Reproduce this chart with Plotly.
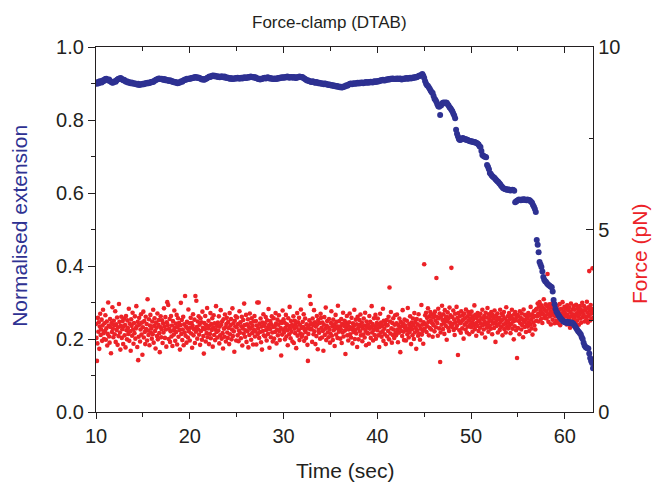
import plotly.graph_objects as go

# ---------------- data ----------------
# Normalised extension: one row per second, samples every 0.1 s
ext_10_20 = [
 [0.902,0.899,0.904,0.901,0.906,0.905,0.903,0.908,0.906,0.910],
 [0.912,0.913,0.910,0.908,0.911,0.907,0.905,0.903,0.902,0.904],
 [0.906,0.905,0.909,0.911,0.913,0.912,0.915,0.914,0.911,0.909],
 [0.910,0.907,0.905,0.906,0.903,0.904,0.902,0.901,0.903,0.900],
 [0.901,0.899,0.900,0.898,0.897,0.899,0.896,0.897,0.898,0.897],
 [0.899,0.898,0.900,0.901,0.900,0.902,0.901,0.903,0.902,0.904],
 [0.905,0.904,0.907,0.908,0.910,0.911,0.912,0.914,0.913,0.912],
 [0.913,0.911,0.910,0.912,0.909,0.910,0.908,0.909,0.907,0.909],
 [0.906,0.907,0.904,0.905,0.903,0.904,0.902,0.901,0.903,0.902],
 [0.904,0.906,0.905,0.908,0.909,0.911,0.910,0.913,0.912,0.913],
]
ext_20_30 = [
 [0.914,0.913,0.915,0.916,0.915,0.917,0.918,0.916,0.917,0.915],
 [0.916,0.914,0.913,0.911,0.912,0.910,0.911,0.913,0.914,0.916],
 [0.917,0.919,0.918,0.920,0.921,0.922,0.920,0.921,0.919,0.920],
 [0.918,0.919,0.917,0.918,0.920,0.918,0.917,0.919,0.916,0.917],
 [0.915,0.916,0.914,0.913,0.915,0.912,0.913,0.914,0.913,0.915],
 [0.914,0.916,0.915,0.913,0.915,0.916,0.914,0.915,0.917,0.916],
 [0.915,0.917,0.916,0.918,0.917,0.919,0.918,0.917,0.918,0.916],
 [0.917,0.915,0.914,0.912,0.913,0.911,0.913,0.912,0.914,0.915],
 [0.916,0.914,0.915,0.917,0.916,0.914,0.915,0.913,0.914,0.912],
 [0.913,0.914,0.912,0.913,0.915,0.914,0.916,0.915,0.917,0.916],
]
ext_30_40 = [
 [0.917,0.916,0.918,0.917,0.919,0.918,0.916,0.917,0.918,0.917],
 [0.916,0.918,0.917,0.915,0.916,0.918,0.917,0.919,0.918,0.917],
 [0.918,0.916,0.914,0.912,0.910,0.908,0.909,0.907,0.906,0.905],
 [0.904,0.906,0.905,0.903,0.902,0.904,0.903,0.901,0.902,0.900],
 [0.901,0.899,0.900,0.898,0.900,0.899,0.897,0.898,0.896,0.897],
 [0.895,0.896,0.894,0.895,0.893,0.894,0.892,0.893,0.891,0.892],
 [0.890,0.891,0.889,0.890,0.892,0.891,0.893,0.895,0.894,0.896],
 [0.898,0.899,0.900,0.898,0.899,0.901,0.900,0.899,0.901,0.902],
 [0.900,0.902,0.901,0.903,0.902,0.901,0.903,0.902,0.904,0.903],
 [0.902,0.904,0.903,0.905,0.904,0.903,0.905,0.906,0.904,0.906],
]
ext_40_50 = [
 [0.905,0.907,0.906,0.908,0.909,0.908,0.910,0.909,0.908,0.910],
 [0.911,0.910,0.912,0.911,0.913,0.912,0.914,0.913,0.912,0.913],
 [0.912,0.914,0.913,0.912,0.914,0.913,0.911,0.913,0.912,0.914],
 [0.913,0.915,0.914,0.913,0.915,0.916,0.914,0.916,0.915,0.917],
 [0.916,0.918,0.917,0.919,0.920,0.922,0.921,0.923,0.926,0.921],
 [0.915,0.906,0.899,0.895,0.893,0.889,0.885,0.880,0.876,0.874],
 [0.866,0.858,0.855,0.850,0.843,0.838,0.836,0.814,0.840,0.845],
 [0.847,0.848,0.846,0.848,0.847,0.843,0.840,0.835,0.832,0.828],
 [0.824,0.818,0.812,0.805,0.773,0.762,0.755,0.748,0.745,0.746],
 [0.748,0.751,0.749,0.747,0.748,0.745,0.746,0.744,0.743,0.742],
]
ext_50_63 = [
 [0.741,0.742,0.740,0.739,0.740,0.738,0.737,0.735,0.733,0.728],
 [0.726,0.715,0.704,0.702,0.700,0.699,0.698,0.677,0.672,0.665],
 [0.655,0.652,0.648,0.645,0.643,0.641,0.638,0.635,0.632,0.630],
 [0.627,0.624,0.620,0.617,0.614,0.612,0.611,0.610,0.609,0.610],
 [0.608,0.609,0.607,0.608,0.609,0.608,0.606,0.575,0.577,0.579],
 [0.580,0.582,0.581,0.580,0.582,0.581,0.583,0.582,0.581,0.580],
 [0.582,0.580,0.581,0.579,0.576,0.573,0.567,0.562,0.556,0.548],
 [0.471,0.458,0.438,0.411,0.404,0.397,0.385,0.370,0.362,0.358],
 [0.356,0.352,0.349,0.347,0.345,0.343,0.342,0.330,0.307,0.295],
 [0.283,0.275,0.271,0.266,0.262,0.258,0.255,0.252,0.249,0.247],
 [0.246,0.245,0.247,0.244,0.246,0.245,0.243,0.245,0.244,0.242],
 [0.238,0.234,0.230,0.226,0.222,0.219,0.216,0.212,0.205,0.200],
 [0.190,0.182,0.178,0.176,0.175,0.174,0.160,0.148,0.140,0.134],
 [0.120],
]

# Force in units of 0.01 pN: one row per second, samples every 0.05 s
force_10_20 = [
 [241,203,140,188,258,220,246,173,234,269,211,226,253,195,237,280,216,200,243,222],
 [265,198,229,248,182,214,300,236,207,190,255,233,161,244,219,287,228,205,250,238],
 [213,276,192,240,225,259,184,232,208,296,247,218,171,236,261,203,227,249,186,234],
 [256,210,238,177,263,224,199,251,230,214,283,195,242,221,168,254,236,209,272,226],
 [187,244,216,262,201,229,290,235,178,247,142,206,258,239,193,226,268,212,245,157],
 [232,275,204,249,219,186,261,227,241,196,309,223,211,254,183,237,266,218,229,201],
 [248,213,280,190,236,257,222,174,245,231,208,270,199,239,252,216,164,233,262,205],
 [227,251,189,243,218,284,235,203,260,226,179,246,301,238,293,200,228,255,192,221],
 [263,207,237,181,249,224,212,278,230,195,242,219,266,185,233,257,206,244,225,171],
 [238,299,214,252,197,226,261,183,240,218,318,209,234,190,247,229,204,281,221,243],
]
force_20_30 = [
 [196,231,258,215,244,176,236,268,210,227,253,189,318,220,305,233,201,248,226,262],
 [212,239,184,257,222,246,198,275,231,208,160,244,227,263,193,238,216,285,205,229],
 [250,186,236,214,271,202,241,225,257,179,232,265,211,243,197,226,290,219,236,204],
 [245,223,262,188,234,210,279,239,201,248,216,174,254,228,206,267,232,193,241,258],
 [218,203,247,230,186,271,213,238,255,199,226,284,208,243,221,165,250,234,262,196],
 [232,259,210,241,194,223,276,217,246,202,235,261,182,229,252,215,297,238,206,224],
 [266,192,240,221,254,177,233,211,270,228,244,198,257,216,236,185,248,225,263,207],
 [221,249,185,237,300,214,229,300,203,242,219,256,191,234,171,245,222,268,210,236],
 [243,207,260,225,196,251,231,214,282,238,176,227,249,205,240,262,218,193,233,257],
 [201,235,219,271,242,188,226,253,210,239,265,221,197,247,230,155,244,212,278,226],
]
force_30_40 = [
 [254,218,245,199,231,266,207,240,224,183,257,236,213,288,228,202,249,220,238,193],
 [236,262,189,228,250,216,242,175,233,271,209,246,224,258,197,239,215,281,230,206],
 [212,247,233,268,195,225,256,219,203,240,229,184,140,214,237,251,318,227,296,243],
 [227,192,256,238,213,279,221,246,186,234,208,263,240,172,252,225,217,244,201,269],
 [258,231,204,245,222,168,239,260,211,228,286,197,236,249,218,232,205,255,226,190],
 [215,244,276,209,235,197,253,224,240,181,229,266,212,247,235,203,291,228,220,249],
 [234,201,227,255,189,241,218,272,207,236,250,223,159,245,231,263,210,238,196,226],
 [246,270,213,232,204,258,227,188,243,219,236,280,200,225,253,215,240,178,261,229],
 [199,238,252,221,267,210,235,245,194,229,212,256,237,204,272,222,183,248,231,216],
 [239,215,187,263,228,247,203,234,290,218,241,196,225,257,211,235,266,201,230,244],
]
force_40_50 = [
 [224,256,210,240,178,232,269,217,245,206,236,221,283,195,250,228,213,242,186,237],
 [252,207,238,222,261,199,341,248,215,274,229,190,244,211,257,226,203,239,265,218],
 [210,243,267,226,191,238,217,256,231,164,247,222,235,208,279,242,220,197,253,230],
 [237,196,224,250,213,285,229,204,241,219,262,233,186,245,227,210,256,238,200,271],
 [218,247,230,173,255,224,240,209,268,215,236,198,251,228,293,212,239,222,187,246],
 [405,228,265,240,272,219,258,235,284,247,210,262,230,274,251,226,268,243,206,259],
 [238,266,221,275,250,232,367,261,244,209,283,256,229,270,137,218,262,239,291,252],
 [227,268,244,214,279,255,236,261,198,248,273,231,257,222,286,245,265,240,395,233],
 [260,241,278,225,253,211,269,246,230,288,237,258,156,271,249,224,262,243,217,276],
 [248,229,265,253,201,270,239,257,226,281,245,218,262,234,274,251,213,267,240,256],
]
force_50_63 = [
 [232,275,246,220,262,254,238,292,227,266,243,209,258,236,271,248,222,264,250,231],
 [269,242,257,215,280,238,254,226,263,247,204,272,240,259,231,285,245,220,268,253],
 [237,261,228,274,249,213,266,242,257,230,278,244,192,263,251,236,270,218,255,241],
 [258,225,280,247,233,269,252,210,264,239,274,227,256,243,218,287,249,235,262,229],
 [245,271,236,255,216,263,241,280,228,257,248,199,268,235,274,251,224,260,148,266],
 [230,262,249,213,276,243,258,226,270,238,254,205,281,247,233,266,252,219,262,240],
 [256,234,271,246,222,264,240,288,253,229,268,212,259,245,276,237,263,226,280,250],
 [283,262,297,270,248,289,301,266,279,255,292,273,244,286,268,309,258,281,264,295],
 [276,256,290,378,268,247,283,295,262,274,240,288,270,297,253,279,266,285,243,271],
 [262,285,250,273,291,244,268,279,257,296,238,270,283,252,265,301,247,276,260,288],
 [271,249,283,262,240,292,266,278,254,287,259,231,274,297,263,245,281,268,252,290],
 [258,280,266,243,294,270,251,285,262,276,239,268,290,256,281,245,273,299,260,277],
 [266,290,248,279,261,283,254,302,272,245,287,263,386,278,251,293,269,282,257,394],
 [272],
]

x_ticks = [10, 20, 30, 40, 50, 60]
ext_ticks = [0.0, 0.2, 0.4, 0.6, 0.8, 1.0]
force_ticks = [0, 5, 10]


def expand(segments, t0, dt, scale=1.0):
    ts, vs = [], []
    sec = t0
    for seg in segments:
        for row in seg:
            for j, v in enumerate(row):
                ts.append(round(sec + j * dt, 4))
                vs.append(v * scale)
            sec += 1
    return ts, vs


t_ext, ext = expand([ext_10_20, ext_20_30, ext_30_40, ext_40_50, ext_50_63], 10, 0.1)
t_f, force = expand([force_10_20, force_20_30, force_30_40, force_40_50, force_50_63], 10, 0.05, 0.01)

BLUE = "#2E3192"
RED = "#EC2227"
INK = "#231F20"
FONT = "Liberation Sans, Arial, Helvetica, sans-serif"

fig = go.Figure()
# force on base y axis (drawn below), extension on overlay axis (drawn on top)
fig.add_trace(go.Scatter(x=t_f, y=force, mode="markers", xaxis="x", yaxis="y",
                         marker=dict(color=RED, size=4.6, line=dict(width=0)),
                         showlegend=False, hoverinfo="skip"))
fig.add_trace(go.Scatter(x=t_ext, y=ext, mode="markers", xaxis="x", yaxis="y2",
                         marker=dict(color=BLUE, size=6, line=dict(width=0)),
                         showlegend=False, hoverinfo="skip"))
# helper (invisible) trace to materialise the top axis
fig.add_trace(go.Scatter(x=[10], y=[0], mode="markers", xaxis="x2", yaxis="y",
                         marker=dict(opacity=0), showlegend=False, hoverinfo="skip"))

axis_common = dict(showgrid=False, zeroline=False, showline=True, linecolor=INK,
                   linewidth=1.3, tickcolor=INK, tickwidth=1.3,
                   tickfont=dict(family=FONT, size=20, color=INK))

fig.update_layout(
    width=657, height=485,
    margin=dict(l=96, r=64, t=47, b=73),
    paper_bgcolor="white", plot_bgcolor="white",
    xaxis=dict(range=[10, 63], tickmode="array", tickvals=x_ticks,
               ticks="outside", ticklen=6, anchor="y",
               minor=dict(dtick=5, tick0=10, ticks="outside", ticklen=4,
                          tickcolor=INK, tickwidth=1.3),
               **axis_common),
    xaxis2=dict(range=[10, 63], overlaying="x", side="top", anchor="y",
                tickmode="array", tickvals=x_ticks, ticks="inside", ticklen=6,
                showticklabels=False,
                minor=dict(dtick=5, tick0=10, ticks="inside", ticklen=4,
                           tickcolor=INK, tickwidth=1.3),
                **axis_common),
    yaxis=dict(range=[0, 10], side="right", anchor="x", tickmode="array",
               tickvals=force_ticks, ticks="inside", ticklen=7,
               minor=dict(dtick=2.5, tick0=0, ticks="inside", ticklen=4,
                          tickcolor=INK, tickwidth=1.3),
               **axis_common),
    yaxis2=dict(range=[0, 1], side="left", overlaying="y", anchor="x",
                tickmode="array", tickvals=ext_ticks,
                ticktext=[f"{v:.1f}" for v in ext_ticks],
                ticks="outside", ticklen=7,
                minor=dict(dtick=0.1, tick0=0, ticks="outside", ticklen=4,
                           tickcolor=INK, tickwidth=1.3),
                **axis_common),
    annotations=[
        dict(text="Force-clamp (DTAB)", x=0.469, y=1.068, xref="paper", yref="paper",
             showarrow=False, xanchor="center", yanchor="middle",
             font=dict(family=FONT, size=17, color=INK)),
        dict(text="Time (sec)", x=0.501, y=-0.159, xref="paper", yref="paper",
             showarrow=False, xanchor="center", yanchor="middle",
             font=dict(family=FONT, size=21, color=INK)),
        dict(text="Normalised extension", x=-0.153, y=0.51, xref="paper", yref="paper",
             showarrow=False, xanchor="center", yanchor="middle", textangle=-90,
             font=dict(family=FONT, size=21, color=BLUE)),
        dict(text="Force (pN)", x=1.0946, y=0.433, xref="paper", yref="paper",
             showarrow=False, xanchor="center", yanchor="middle", textangle=-90,
             font=dict(family=FONT, size=21, color=RED)),
    ],
)

fig.write_html(
    "out.html",
    config={"displayModeBar": False},
    post_script="document.body.style.margin='0';document.body.style.padding='0';",
)
